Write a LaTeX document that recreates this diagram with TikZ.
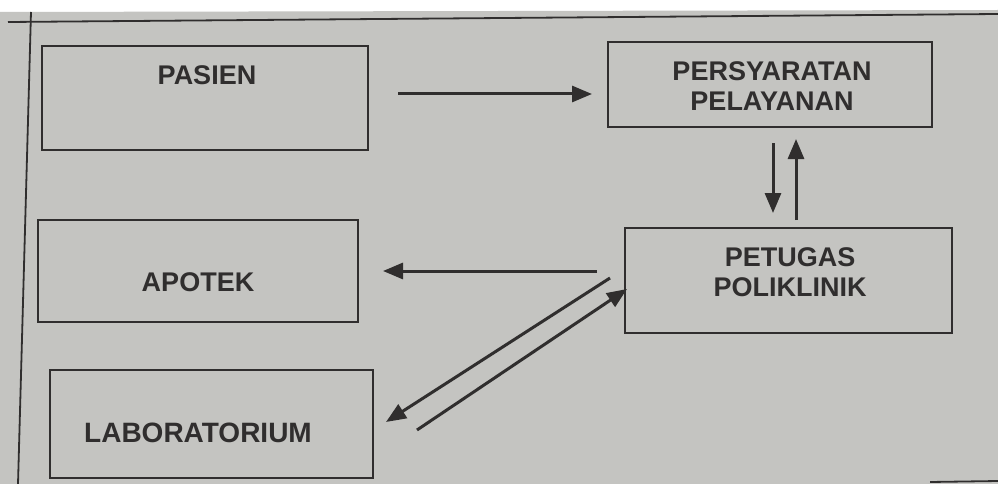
\documentclass[tikz,border=0pt]{standalone}
\usepackage{fontspec}
\setmainfont{Liberation Sans}
\usetikzlibrary{arrows.meta}
\definecolor{paper}{RGB}{196,196,193}
\definecolor{ink}{RGB}{48,46,46}
\tikzset{
  box/.style={draw=ink, line width=2pt, rectangle, inner sep=0pt},
  lbl/.style={text=ink, font=\fontsize{27}{30}\selectfont\bfseries, align=center, inner sep=0pt},
  arr/.style={draw=ink, line width=3pt, -{Triangle[length=20pt,width=16pt]}},
  frame/.style={draw=ink, line width=1.8pt}
}
\begin{document}
\begin{tikzpicture}[x=1pt,y=-1pt]
\useasboundingbox (0,0) rectangle (998,484);
\fill[white] (0,0) rectangle (998,484);
\fill[paper] (0,12) -- (998,10) -- (998,484) -- (0,484) -- cycle;
% frame lines
\coordinate (ftl) at (8,22);
\coordinate (ftr) at (998,14);
\coordinate (fvt) at (31,12);
\coordinate (fvb) at (18,484);
\coordinate (fbl) at (930,482);
\coordinate (fbr) at (998,481);
\draw[frame] (ftl) -- (ftr);
\draw[frame] (fvt) -- (fvb);
\draw[frame] (fbl) -- (fbr);
% boxes
\node[box, minimum width=326pt, minimum height=103pt] (pasien) at (205,98) {};
\node[lbl] (tpasien) at (207,75) {PASIEN};
\node[box, minimum width=324pt, minimum height=85pt] (syarat) at (770,85) {};
\node[lbl] (tsyarat) at (772,86) {PERSYARATAN\\PELAYANAN};
\node[box, minimum width=320pt, minimum height=102pt] (apotek) at (198,271) {};
\node[lbl] (tapotek) at (198,282) {APOTEK};
\node[box, minimum width=323pt, minimum height=108pt] (lab) at (211,424) {};
\node[lbl, font=\fontsize{28}{30}\selectfont\bfseries] (tlab) at (198,433) {LABORATORIUM};
\node[box, minimum width=327pt, minimum height=105pt] (petugas) at (788,280) {};
\node[lbl] (tpetugas) at (790,272) {PETUGAS\\POLIKLINIK};
% arrow anchor points
\coordinate (a1s) at (398,94);
\coordinate (a1e) at (592,94);
\coordinate (a2s) at (773,143);
\coordinate (a2e) at (773,213);
\coordinate (a3s) at (796,220);
\coordinate (a3e) at (796,139);
\coordinate (a4s) at (597,271);
\coordinate (a4e) at (383,271);
\coordinate (a5s) at (610,278);
\coordinate (a5e) at (386,422);
\coordinate (a6s) at (417,430);
\coordinate (a6e) at (627,289);
\draw[arr] (a1s) -- (a1e);
\draw[arr] (a2s) -- (a2e);
\draw[arr] (a3s) -- (a3e);
\draw[arr] (a4s) -- (a4e);
\draw[arr] (a5s) -- (a5e);
\draw[arr] (a6s) -- (a6e);
\end{tikzpicture}
\end{document}
